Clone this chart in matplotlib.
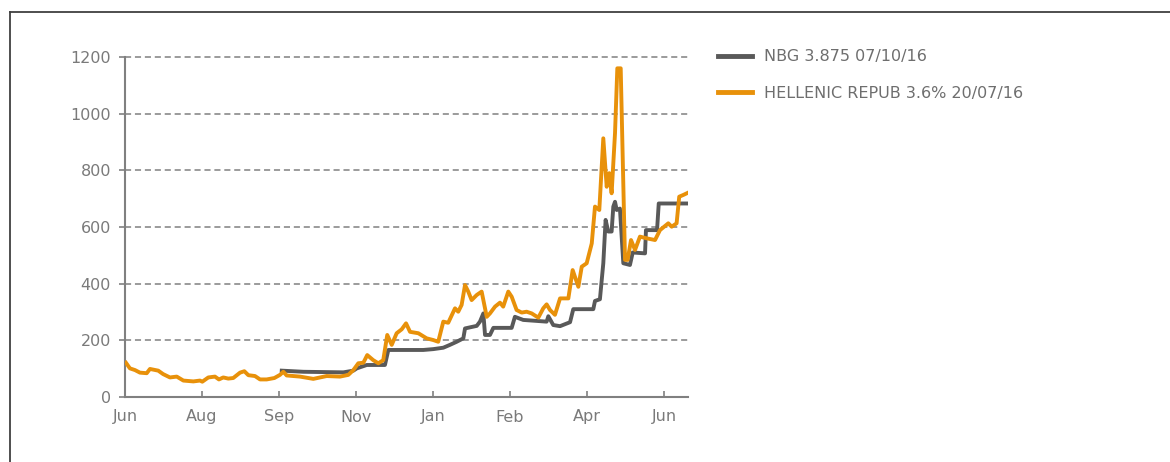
import matplotlib
matplotlib.use("Agg")
import matplotlib.pyplot as plt
from matplotlib.lines import Line2D

# ---- data (x in day-like units, ticks every 50) ----
tick_labels = ["Jun", "Aug", "Sep", "Nov", "Jan", "Feb", "Apr", "Jun"]
tick_pos = [0, 50, 100, 150, 200, 250, 300, 350]

hel_x = [0.6, 3.2, 6.5, 9.7, 14.1, 16.2, 21.6, 24.7, 29.2, 33.6, 37.9, 44.4, 48.7, 50.2,
         54.1, 58.4, 61.0, 63.8, 67.1, 70.3, 74.7, 77.5, 80.1, 84.4, 87.7, 92.0, 97.0,
         100.6, 102.8, 105.0, 113.6, 122.3, 131.0, 139.6, 145.0, 148.3, 151.5, 154.8,
         157.3, 161.2, 164.5, 167.7, 170.3, 173.2, 176.4, 179.7, 182.5, 185.1, 190.5,
         195.9, 200.2, 203.4, 206.7, 209.9, 214.3, 216.4, 218.6, 220.8, 222.9, 225.1,
         228.4, 231.6, 234.9, 237.0, 240.3, 243.5, 245.6, 248.9, 251.1, 254.3, 257.6,
         260.8, 264.1, 268.4, 271.6, 273.8, 276.0, 279.2, 282.5, 287.9, 290.7, 294.4,
         296.6, 299.8, 303.1, 305.2, 308.0, 310.6, 312.8, 314.5, 316.0, 318.2, 319.7,
         321.9, 324.7, 326.4, 328.6, 331.2, 334.4, 338.8, 344.2, 347.4, 352.8, 355.0,
         358.2, 359.9, 362.5, 365.6]
hel_y = [121, 101, 95, 86, 84, 99, 93, 81, 69, 72, 58, 55, 58, 54,
         69, 72, 62, 69, 65, 67, 86, 91, 77, 74, 62, 62, 67,
         78, 89, 76, 72, 64, 74, 72, 78, 95, 119, 121,
         148, 130, 119, 130, 219, 184, 225, 239, 260, 230, 225,
         207, 201, 195, 266, 262, 313, 301, 325, 395, 372, 342,
         360, 372, 283, 295, 319, 333, 319, 372, 354, 307, 298,
         301, 295, 280, 313, 327, 307, 290, 348, 348, 448, 389,
         460, 472, 542, 672, 660, 913, 742, 790, 719, 931, 1160,
         1160, 484, 484, 554, 519, 566, 560, 554, 589, 613, 601,
         613, 707, 713, 721]

nbg_x = [101.8, 115.8, 128.8, 141.8, 148.3, 150.5, 157.0, 168.8, 171.0, 193.7, 200.2,
         206.7, 211.0, 215.4, 219.7, 220.8, 228.4, 230.5, 232.7, 233.8, 237.0, 239.2,
         251.1, 253.2, 258.6, 273.8, 274.9, 278.1, 282.5, 289.0, 291.1, 304.1, 305.2,
         308.4, 310.6, 312.1, 313.8, 316.0, 317.1, 318.2, 319.3, 321.4, 323.6, 327.9,
         329.7, 337.7, 338.3, 345.5, 346.6, 365.6]
nbg_y = [93, 89, 88, 87, 93, 101, 113, 113, 166, 166, 169,
         174, 184, 195, 207, 242, 251, 266, 295, 219, 219, 244,
         244, 283, 272, 266, 285, 254, 250, 264, 310, 310, 339,
         345, 472, 625, 584, 584, 672, 689, 660, 665, 472, 466,
         510, 507, 589, 589, 683, 683]

series_names = ["NBG 3.875 07/10/16", "HELLENIC REPUB 3.6% 20/07/16"]
colors = ["#595959", "#E8910A"]

# ---- figure ----
W, H = 1170, 462
fig = plt.figure(figsize=(W / 100, H / 100), dpi=100)
plt.rcParams['font.family'] = ['DejaVu Sans']

ax = fig.add_axes([125 / W, (H - 397) / H, (688 - 125) / W, 340 / H])
ax.plot(nbg_x, nbg_y, color=colors[0], lw=2.8, label=series_names[0],
        solid_joinstyle='round', zorder=3)
ax.plot(hel_x, hel_y, color=colors[1], lw=2.8, label=series_names[1],
        solid_joinstyle='round', zorder=4)

ax.set_xlim(0, 365.6)
ax.set_ylim(0, 1200)
ax.set_yticks([0, 200, 400, 600, 800, 1000, 1200])
ax.set_xticks(tick_pos)
ax.set_xticklabels(tick_labels)

grid_c = "#808080"
for v in [200, 400, 600, 800, 1000, 1200]:
    ax.axhline(v, color=grid_c, lw=1.1, ls=(0, (4, 2.5)), zorder=1, clip_on=False)

for s in ["top", "right"]:
    ax.spines[s].set_visible(False)
for s in ["left", "bottom"]:
    ax.spines[s].set_color(grid_c)
    ax.spines[s].set_linewidth(1.5)

lab_c = "#7a7a7a"
ax.tick_params(axis='y', direction='out', length=4, width=1.2, color=grid_c,
               labelsize=11.5, labelcolor=lab_c, pad=6)
ax.tick_params(axis='x', direction='in', length=4, width=1.2, color=grid_c,
               labelsize=11.5, labelcolor=lab_c, pad=9)

leg = fig.legend(loc='upper left', bbox_to_anchor=(712 / W, (H - 43) / H),
                 frameon=False, fontsize=11.5, handlelength=2.1,
                 handletextpad=0.75, labelspacing=1.35, borderaxespad=0)
for t in leg.get_texts():
    t.set_color("#6e6e6e")
for l in leg.get_lines():
    l.set_linewidth(3.5)

# outer border (left and top)
bc = "#404040"
fig.add_artist(Line2D([9.5 / W, 9.5 / W], [0, (H - 12) / H], color=bc, lw=1.3,
                      transform=fig.transFigure))
fig.add_artist(Line2D([9.5 / W, 1], [(H - 12) / H, (H - 12) / H], color=bc, lw=1.3,
                      transform=fig.transFigure))

fig.savefig("out.png", dpi=100)
